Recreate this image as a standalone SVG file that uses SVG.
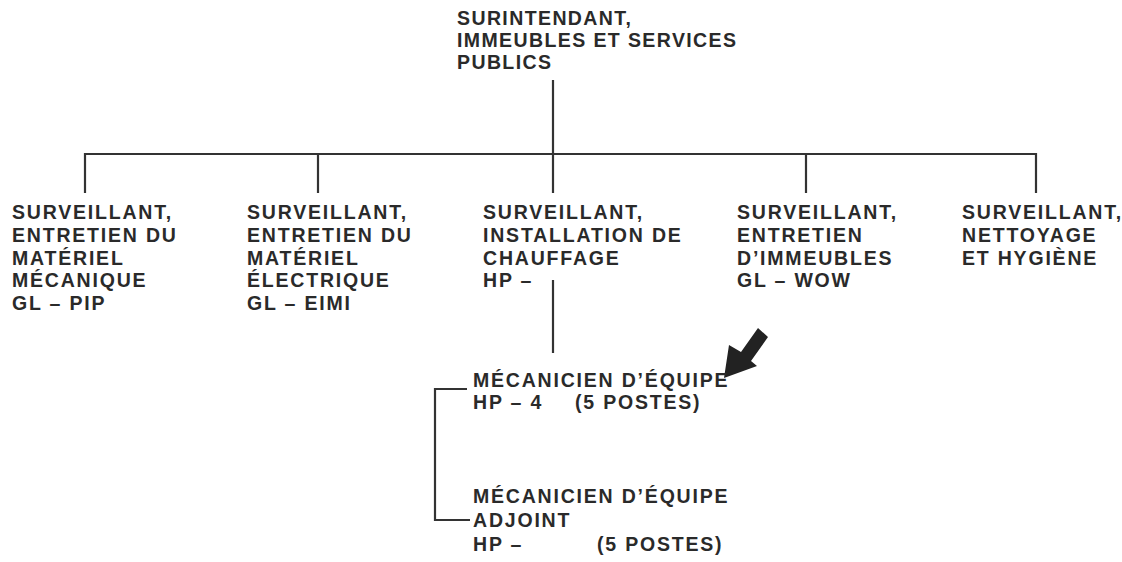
<svg xmlns="http://www.w3.org/2000/svg" width="1122" height="562" viewBox="0 0 1122 562">
<style>
text{font-family:"Liberation Sans",Arial,sans-serif;font-weight:bold;font-size:19.5px;letter-spacing:1.8px;fill:#2a2a2a}
.top{letter-spacing:1.4px}
.ln{stroke:#333;stroke-width:2.2;fill:none}
</style>
<rect width="1122" height="562" fill="#fff"/>
<g id="connectors">
<path class="ln" d="M553,80 V154 M85,193 V154 H1036 V193 M318,154 V193 M553,154 V193 M806,154 V193"/>
<path class="ln" d="M553,280 V353"/>
<path class="ln" d="M467,389 H435 V520 H470"/>
</g>
<g id="arrow">
<polygon points="724,378 729,345 741,352 758,328 768,337 751,361 757,366" fill="#222"/>
</g>
<g id="n-surintendant">
<text class="top" x="457" y="25">SURINTENDANT,</text>
<text class="top" x="457" y="47">IMMEUBLES ET SERVICES</text>
<text class="top" x="457" y="69">PUBLICS</text>
</g>
<g id="n-mecanique">
<text x="12" y="219">SURVEILLANT,</text>
<text x="12" y="242">ENTRETIEN DU</text>
<text x="12" y="264.5">MATÉRIEL</text>
<text x="12" y="287">MÉCANIQUE</text>
<text x="12" y="309.5">GL – PIP</text>
</g>
<g id="n-electrique">
<text x="247" y="219">SURVEILLANT,</text>
<text x="247" y="242">ENTRETIEN DU</text>
<text x="247" y="264.5">MATÉRIEL</text>
<text x="247" y="287">ÉLECTRIQUE</text>
<text x="247" y="309.5">GL – EIMI</text>
</g>
<g id="n-chauffage">
<text x="483" y="219">SURVEILLANT,</text>
<text x="483" y="242">INSTALLATION DE</text>
<text x="483" y="264.5">CHAUFFAGE</text>
<text x="483" y="287">HP –</text>
</g>
<g id="n-immeubles">
<text x="737" y="219">SURVEILLANT,</text>
<text x="737" y="242">ENTRETIEN</text>
<text x="737" y="264.5">D’IMMEUBLES</text>
<text x="737" y="287">GL – WOW</text>
</g>
<g id="n-nettoyage">
<text x="962" y="219">SURVEILLANT,</text>
<text x="962" y="242">NETTOYAGE</text>
<text x="962" y="264.5">ET HYGIÈNE</text>
</g>
<g id="n-mecanicien">
<text x="473" y="387">MÉCANICIEN D’ÉQUIPE</text>
<text x="473" y="409">HP – 4</text>
<text x="575" y="409">(5 POSTES)</text>
</g>
<g id="n-adjoint">
<text x="473" y="503">MÉCANICIEN D’ÉQUIPE</text>
<text x="473" y="527">ADJOINT</text>
<text x="473" y="551">HP –</text>
<text x="597" y="551">(5 POSTES)</text>
</g>
</svg>
